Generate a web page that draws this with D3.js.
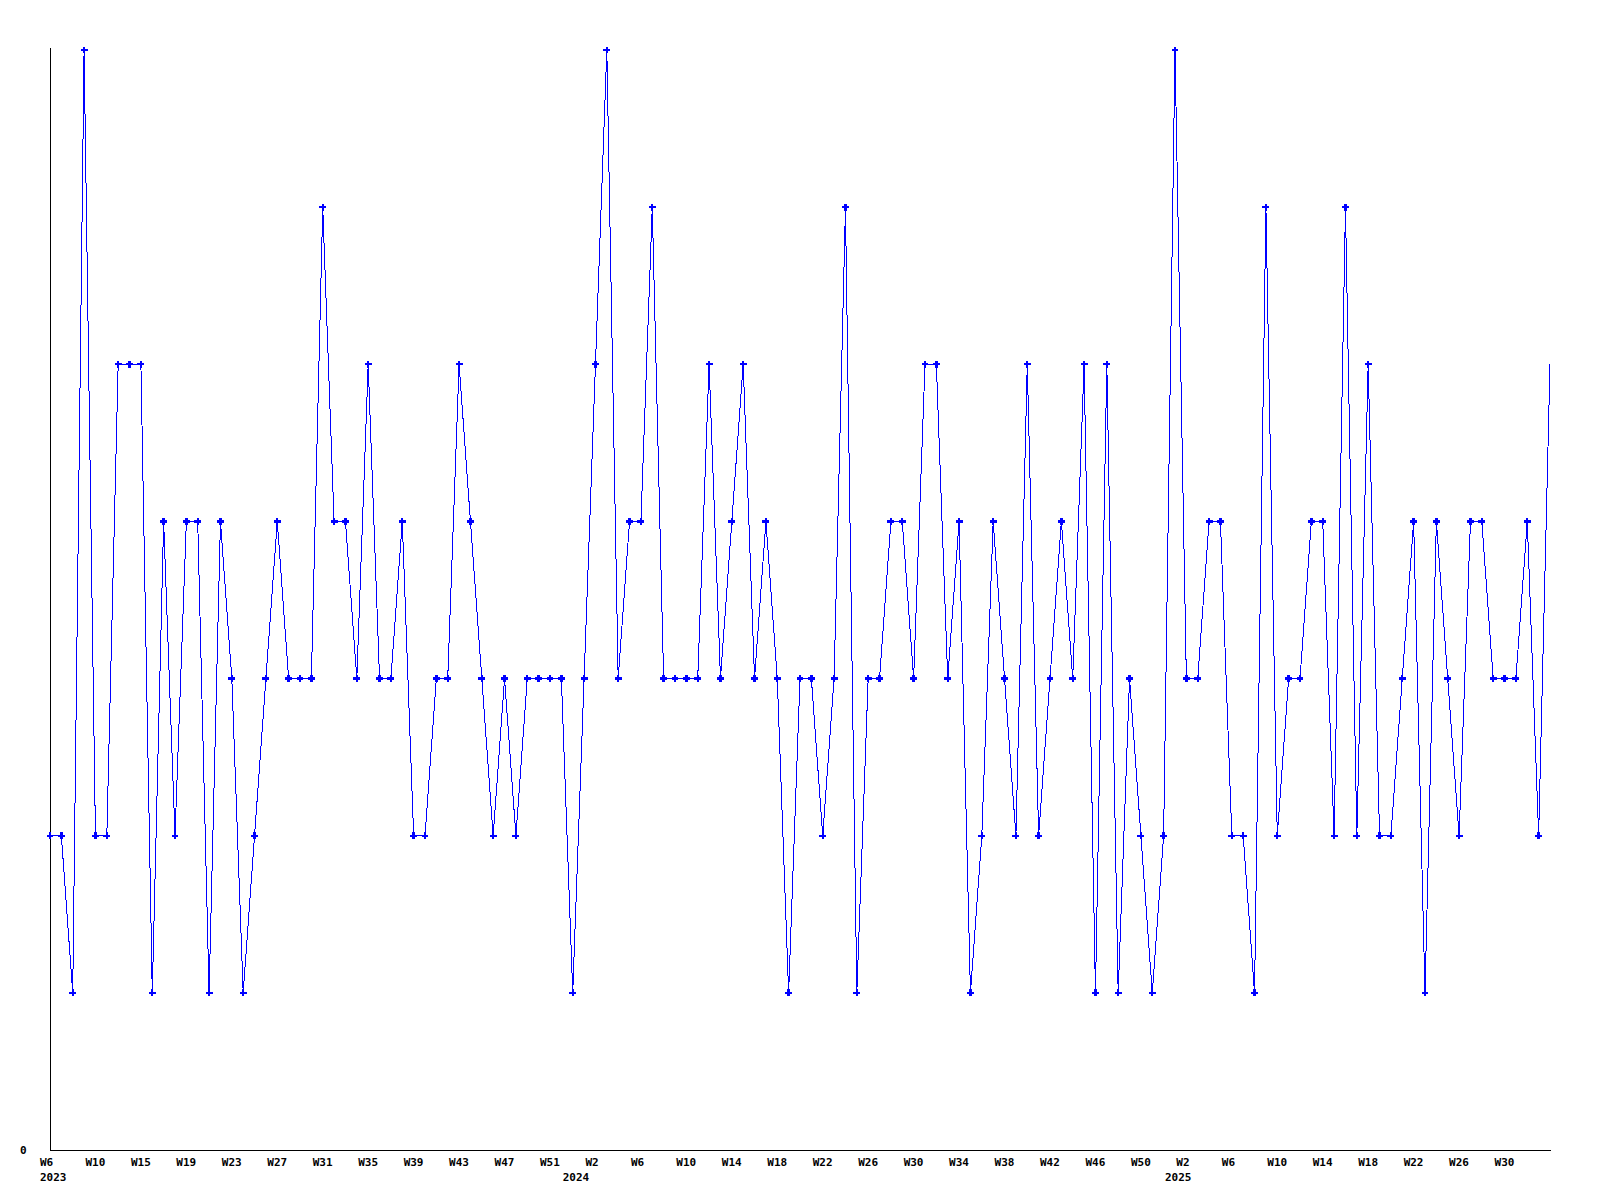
<!DOCTYPE html>
<html>
<head>
<meta charset="utf-8">
<script src="https://cdn.jsdelivr.net/npm/d3@7"></script>
<style>
  html, body { margin: 0; padding: 0; background: #ffffff; }
  svg { display: block; }
  text { font-family: "DejaVu Sans Mono", "Liberation Mono", monospace; font-weight: bold; font-size: 11px; fill: #000; }
</style>
</head>
<body>
<svg id="chart" width="1600" height="1200"></svg>
<script>
// ---- data ----
const weekSpans = [
  { year: 2023, from: 6, to: 52 },
  { year: 2024, from: 1, to: 52 },
  { year: 2025, from: 1, to: 34 }
];
const categories = [];
weekSpans.forEach(s => {
  for (let w = s.from; w <= s.to; w++) categories.push(s.year + "-W" + String(w).padStart(2, "0"));
});

const values = [
  2, 2, 1, 7, 2, 2, 5, 5, 5, 1,
  4, 2, 4, 4, 1, 4, 3, 1, 2, 3,
  4, 3, 3, 3, 6, 4, 4, 3, 5, 3,
  3, 4, 2, 2, 3, 3, 5, 4, 3, 2,
  3, 2, 3, 3, 3, 3, 1, 3, 5, 7,
  3, 4, 4, 6, 3, 3, 3, 3, 5, 3,
  4, 5, 3, 4, 3, 1, 3, 3, 2, 3,
  6, 1, 3, 3, 4, 4, 3, 5, 5, 3,
  4, 1, 2, 4, 3, 2, 5, 2, 3, 4,
  3, 5, 1, 5, 1, 3, 2, 1, 2, 7,
  3, 3, 4, 4, 2, 2, 1, 6, 2, 3,
  3, 4, 4, 2, 6, 2, 5, 2, 2, 3,
  4, 1, 4, 3, 2, 4, 4, 3, 3, 3,
  4, 2, 5
];

// tick labels shown every 4th week on the x axis
const weekTickLabels = [
  "W6", "W10", "W15", "W19", "W23", "W27", "W31", "W35", "W39", "W43", "W47", "W51",
  "W2", "W6", "W10", "W14", "W18", "W22", "W26", "W30", "W34", "W38", "W42", "W46", "W50",
  "W2", "W6", "W10", "W14", "W18", "W22", "W26", "W30"
];
const yearLabels = ["2023", "2024", "2025"];
const yearAnchors = ["2023-W06", "2023-W52", "2025-W01"];
const yTickLabels = ["0"];

// ---- layout ----
const svg = d3.select("#chart");
const plotL = 50, plotR = 1550, plotT = 50, plotB = 1150;

const x = d3.scalePoint().domain(categories).range([plotL, plotR]).padding(0);
const y = d3.scaleLinear().domain([0, 7]).range([plotB, plotT]);

// axes lines
svg.append("line")
  .attr("x1", plotL + 0.5).attr("x2", plotL + 0.5)
  .attr("y1", plotT - 2).attr("y2", plotB + 0.5)
  .attr("stroke", "#000").attr("stroke-width", 1).attr("shape-rendering", "crispEdges");
svg.append("line")
  .attr("x1", plotL).attr("x2", plotR + 1)
  .attr("y1", plotB + 0.5).attr("y2", plotB + 0.5)
  .attr("stroke", "#000").attr("stroke-width", 1).attr("shape-rendering", "crispEdges");

// y tick label
svg.selectAll("text.ylab").data(yTickLabels).enter().append("text")
  .attr("class", "ylab")
  .attr("x", 20)
  .attr("y", d => y(+d) + 4)
  .text(d => d);

// x tick labels
svg.selectAll("text.xlab").data(weekTickLabels).enter().append("text")
  .attr("class", "xlab")
  .attr("x", (d, i) => x(categories[i * 4]) - 10)
  .attr("y", plotB + 16)
  .text(d => d);

// year labels
svg.selectAll("text.yr").data(yearLabels).enter().append("text")
  .attr("class", "yr")
  .attr("x", (d, i) => x(yearAnchors[i]) - 10)
  .attr("y", plotB + 31)
  .text(d => d);

// data line
const pts = categories.map((c, i) => ({ c, v: values[i] }));
const line = d3.line().x(d => x(d.c)).y(d => y(d.v));
svg.append("path")
  .datum(pts)
  .attr("d", line)
  .attr("fill", "none")
  .attr("stroke", "#0000ff")
  .attr("stroke-width", 1)
  .attr("shape-rendering", "crispEdges");

// markers
const sym = d3.symbol().type(d3.symbolCross).size(26);
svg.selectAll("path.mk").data(pts.slice(0, pts.length - 1)).enter().append("path")
  .attr("class", "mk")
  .attr("d", sym)
  .attr("transform", d => `translate(${x(d.c)},${y(d.v)})`)
  .attr("fill", "#0000ff")
  .attr("shape-rendering", "crispEdges");
</script>
</body>
</html>
